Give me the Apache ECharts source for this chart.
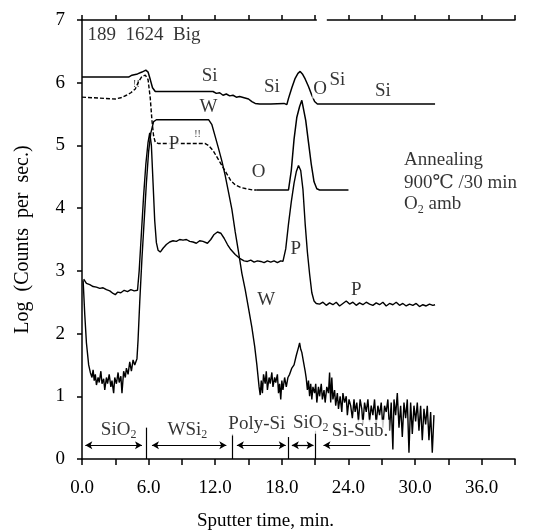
<!DOCTYPE html>
<html>
<head>
<meta charset="utf-8">
<title>SIMS depth profile</title>
<script src="https://cdn.jsdelivr.net/npm/echarts@6/dist/echarts.min.js"></script>
<style>
  html, body { margin: 0; padding: 0; background: #fff; }
  #chart { width: 549px; height: 531px; }
</style>
</head>
<body>
<div id="chart"></div>
<script>
// sputter time (min) vs log counts
const siData = [[0,6.09],[4.2,6.09],[4.5,6.12],[5.0,6.14],[5.4,6.17],[5.75,6.2],[5.95,6.17],[6.15,6.05],[6.35,5.92],[6.6,5.86],[7,5.86],[11.8,5.86],[12.1,5.83],[12.4,5.84],[12.7,5.8],[13.0,5.82],[13.3,5.79],[13.6,5.8],[13.9,5.77],[14.2,5.78],[14.6,5.76],[15.0,5.74],[15.3,5.7],[15.6,5.67],[16.0,5.66],[17.0,5.66],[18.2,5.67],[18.45,5.65],[18.6,5.75],[18.9,5.92],[19.2,6.07],[19.45,6.15],[19.65,6.18],[19.85,6.14],[20.1,6.06],[20.4,5.94],[20.7,5.8],[20.95,5.7],[21.2,5.66],[31.8,5.66]];

const oDashed = [[0,5.77],[1.0,5.76],[2.0,5.75],[3.0,5.74],[3.5,5.76],[4.0,5.8],[4.4,5.84],[4.8,5.9],[5.1,6.02],[5.4,6.1],[5.7,6.12],[5.95,6.05],[6.15,5.75],[6.3,5.4],[6.45,5.15],[6.6,5.05],[6.9,5.03],[8,5.03],[11.1,5.03],[11.4,5.0],[11.8,4.92],[12.2,4.8],[12.6,4.68],[13.0,4.56],[13.4,4.44],[13.8,4.37],[14.3,4.33],[14.8,4.31],[15.4,4.29],[15.7,4.29]];
const oSolid = [[15.7,4.29],[18.6,4.29],[18.85,4.6],[19.1,5.1],[19.35,5.45],[19.6,5.62],[19.8,5.72],[19.95,5.7],[20.15,5.4],[20.4,5.05],[20.65,4.7],[20.9,4.42],[21.15,4.31],[21.4,4.29],[24.0,4.29]];

const pData = [[0.15,2.87],[0.4,2.8],[0.7,2.78],[1.0,2.75],[1.3,2.74],[1.6,2.72],[1.9,2.73],[2.2,2.7],[2.5,2.68],[2.8,2.64],[3.0,2.62],[3.2,2.66],[3.5,2.65],[3.8,2.69],[4.1,2.67],[4.4,2.7],[4.7,2.68],[5.0,2.69],[5.15,3.0],[5.35,3.6],[5.55,4.2],[5.75,4.7],[5.95,5.05],[6.1,5.2],[6.25,5.0],[6.4,4.4],[6.55,3.8],[6.7,3.45],[6.85,3.33],[7.05,3.3],[7.3,3.36],[7.6,3.42],[7.9,3.46],[8.2,3.48],[8.5,3.47],[8.8,3.5],[9.1,3.49],[9.4,3.5],[9.7,3.47],[10.0,3.46],[10.3,3.44],[10.6,3.48],[10.9,3.47],[11.3,3.44],[11.6,3.5],[11.9,3.58],[12.2,3.62],[12.5,3.6],[12.8,3.52],[13.1,3.42],[13.4,3.34],[13.8,3.26],[14.2,3.2],[14.6,3.16],[14.9,3.15],[15.2,3.17],[15.5,3.14],[15.8,3.16],[16.1,3.15],[16.4,3.13],[16.7,3.16],[17.0,3.14],[17.3,3.16],[17.6,3.13],[17.9,3.16],[18.1,3.15],[18.35,3.35],[18.6,3.75],[18.85,4.1],[19.1,4.4],[19.3,4.58],[19.5,4.68],[19.7,4.6],[19.9,4.3],[20.1,3.75],[20.3,3.3],[20.5,2.95],[20.7,2.65],[20.9,2.52],[21.1,2.48],[21.4,2.47],[21.7,2.5],[22.0,2.45],[22.3,2.49],[22.6,2.46],[22.9,2.5],[23.2,2.44],[23.5,2.48],[23.8,2.52],[24.1,2.47],[24.4,2.5],[24.7,2.45],[25.0,2.49],[25.3,2.46],[25.6,2.5],[25.9,2.47],[26.2,2.45],[26.5,2.49],[26.8,2.46],[27.1,2.5],[27.4,2.44],[27.7,2.48],[28.0,2.46],[28.3,2.5],[28.6,2.45],[28.9,2.48],[29.2,2.44],[29.5,2.47],[29.8,2.45],[30.1,2.48],[30.4,2.43],[30.7,2.46],[31.0,2.44],[31.3,2.47],[31.6,2.45],[31.8,2.46]];

const wData = [[0.1,2.85],[0.25,2.3],[0.4,1.85],[0.6,1.5],[0.75,1.38],[0.9,1.3],[1.0,1.42],[1.1,1.25],[1.2,1.35],[1.3,1.18],[1.45,1.3],[1.55,1.22],[1.7,1.4],[1.8,1.2],[1.95,1.28],[2.05,1.1],[2.2,1.3],[2.3,1.2],[2.45,1.35],[2.6,1.15],[2.7,1.25],[2.85,1.05],[2.95,1.3],[3.1,1.2],[3.25,1.38],[3.35,1.22],[3.5,1.32],[3.6,1.05],[3.75,1.4],[3.9,1.3],[4.0,1.45],[4.15,1.35],[4.3,1.55],[4.45,1.4],[4.6,1.58],[4.75,1.5],[4.95,1.6],[5.05,1.9],[5.2,2.5],[5.4,3.2],[5.6,3.8],[5.8,4.4],[6.0,4.9],[6.2,5.2],[6.45,5.38],[6.7,5.41],[11.4,5.41],[11.7,5.33],[12.0,5.14],[12.3,4.95],[12.6,4.75],[12.9,4.52],[13.2,4.25],[13.5,3.98],[13.8,3.62],[14.1,3.3],[14.4,2.96],[14.7,2.7],[15.0,2.4],[15.3,2.1],[15.55,1.8],[15.75,1.5],[15.95,1.15],[16.05,1.02],[16.15,1.25],[16.25,1.05],[16.35,1.35],[16.5,1.2],[16.6,1.4],[16.7,1.1],[16.85,1.3],[16.95,1.2],[17.1,1.38],[17.2,1.15],[17.35,1.3],[17.45,1.22],[17.6,1.35],[17.7,1.05],[17.8,1.2],[17.9,0.95],[18.0,1.25],[18.1,1.1],[18.25,1.3],[18.4,1.15],[18.55,1.3],[18.7,1.35],[18.9,1.45],[19.1,1.5],[19.3,1.65],[19.5,1.78],[19.6,1.85],[19.7,1.75],[19.8,1.7],[19.95,1.55],[20.1,1.4],[20.2,1.28],[20.3,1.1],[20.4,1.25],[20.5,1.0],[20.6,1.2],[20.7,0.95],[20.8,1.15],[20.95,1.05],[21.05,1.2],[21.15,0.9],[21.3,1.15],[21.4,1.0],[21.55,1.2],[21.65,0.95],[21.8,1.1],[21.9,0.9],[22.05,1.15],[22.2,1.05],[22.3,1.38],[22.4,0.9],[22.5,1.3],[22.6,0.95],[22.75,1.1],[22.85,0.85],[23.0,1.05],[23.1,0.8],[23.25,1.0],[23.4,0.75],[23.5,1.05],[23.65,0.9],[23.8,1.0],[23.9,0.7],[24.05,0.95],[24.2,0.85],[24.35,0.65],[24.5,0.95],[24.6,0.75],[24.75,0.9],[24.9,0.6],[25.05,0.95],[25.2,0.8],[25.3,0.55],[25.45,0.9],[25.6,0.75],[25.75,0.95],[25.9,0.6],[26.05,0.85],[26.2,0.7],[26.35,0.95],[26.5,0.55],[26.65,0.85],[26.8,0.7],[26.95,0.9],[27.1,0.5],[27.25,0.85],[27.4,0.75],[27.55,0.95],[27.7,0.45],[27.85,0.9],[28.0,0.15],[28.1,0.95],[28.25,0.7],[28.4,1.05],[28.55,0.5],[28.7,0.85],[28.85,0.35],[29.0,0.9],[29.15,0.65],[29.3,0.95],[29.45,0.1],[29.6,0.9],[29.75,0.4],[29.9,0.85],[30.05,0.6],[30.2,0.9],[30.35,0.45],[30.5,0.85],[30.65,0.3],[30.8,0.8],[30.95,0.55],[31.1,0.85],[31.25,0.3],[31.4,0.75],[31.55,0.1],[31.7,0.7]];

const xLabelValues = [0, 6, 12, 18, 24, 30, 36];
const yTickValues = [0, 1, 2, 3, 4, 5, 6, 7];

// curve labels [t, v, text]
const curveNotes = [[11.5,6.1,'Si'],[11.4,5.62,'W'],[8.3,5.02,'P'],[15.9,4.58,'O'],[17.1,5.93,'Si'],[21.45,5.9,'O'],[23.0,6.04,'Si'],[27.1,5.86,'Si'],[19.25,3.35,'P'],[16.6,2.54,'W'],[24.7,2.7,'P']];
const smallMarks = [[10.4,5.17,'!!'],[4.9,5.98,'!!']];
const leftNotes = [[0.5,6.76,'189  1624  Big'],[29.0,4.77,'Annealing'],[29.0,4.4,'900\u2103 /30 min'],[29.0,4.06,'{t|O}{s|2}{t| amb}']];
const layerNames = [[3.3,0.46,'{t|SiO}{s|2}'],[9.5,0.46,'{t|WSi}{s|2}'],[15.75,0.55,'{t|Poly-Si}'],[20.6,0.58,'{t|SiO}{s|2}'],[25.05,0.45,'{t|Si-Sub.}']];
const layerBounds = [[5.75,0.5],[13.5,0.4],[18.6,0.35],[21.0,0.45]];
const layerArrows = [[0.3,5.4],[6.3,13.0],[13.95,18.35],[18.9,20.85]];
const subArrow = [21.75,25.95];
const topGap = [21.15,22.05];

const FONT = '"Liberation Serif", "DejaVu Serif", "Noto Sans CJK SC", serif';
const chart = echarts.init(document.getElementById('chart'));

const richText = {
  t: { fontFamily: FONT, fontSize: 19, color: '#000', lineHeight: 22 },
  s: { fontFamily: FONT, fontSize: 12, color: '#000', verticalAlign: 'bottom', lineHeight: 22, padding: [9, 0, 0, 0] }
};

function noteItems(list, align, extra) {
  return list.map(n => ({
    value: [n[0], n[1]],
    label: Object.assign({ formatter: n[2], align: align }, extra || {})
  }));
}

const lineBase = { type: 'line', symbol: 'none', animation: false, z: 3 };

const markLines = [];
layerBounds.forEach(b => markLines.push([{ coord: [b[0], 0], symbol: 'none' }, { coord: [b[0], b[1]], symbol: 'none' }]));
layerArrows.forEach(a => markLines.push([{ coord: [a[0], 0.22], symbol: 'arrow' }, { coord: [a[1], 0.22], symbol: 'arrow' }]));
markLines.push([{ coord: [subArrow[0], 0.22], symbol: 'arrow' }, { coord: [subArrow[1], 0.22], symbol: 'none' }]);

chart.setOption({
  animation: false,
  backgroundColor: '#fff',
  grid: { left: 82, right: 34, top: 20, bottom: 72, containLabel: false, outerBoundsMode: 'none' },
  xAxis: [{
    type: 'value', min: 0, max: 39, interval: 3,
    name: 'Sputter time, min.', nameLocation: 'middle', nameGap: 53,
    nameTextStyle: { fontFamily: FONT, fontSize: 19, color: '#000', padding: [0, 66, 0, 0] },
    axisLine: { onZero: false, lineStyle: { color: '#000', width: 1.5 } },
    axisTick: { length: 6, lineStyle: { color: '#000', width: 1.5 } },
    axisLabel: {
      margin: 20, fontFamily: FONT, fontSize: 19, color: '#000',
      formatter: v => xLabelValues.indexOf(v) >= 0 ? v.toFixed(1) : ''
    },
    splitLine: { show: false }
  }, {
    type: 'value', min: 0, max: 39, interval: 3, position: 'top',
    axisLine: { show: true, onZero: false, lineStyle: { color: '#000', width: 1.5 } },
    axisTick: { show: true, length: 5, lineStyle: { color: '#000', width: 1.5 } },
    axisLabel: { show: false },
    splitLine: { show: false }
  }],
  yAxis: {
    type: 'value', min: 0, max: 7, interval: 1,
    name: 'Log  (Counts  per  sec.)', nameLocation: 'middle', nameGap: 49,
    nameTextStyle: { fontFamily: FONT, fontSize: 20, color: '#000' },
    axisLine: { show: true, lineStyle: { color: '#000', width: 1.5 } },
    axisTick: { show: true, length: 5, lineStyle: { color: '#000', width: 1.5 } },
    axisLabel: {
      margin: 17, fontFamily: FONT, fontSize: 19, color: '#000',
      formatter: v => yTickValues.indexOf(v) >= 0 ? String(v) : ''
    },
    splitLine: { show: false }
  },
  series: [
    Object.assign({ name: 'Si', data: siData, lineStyle: { color: '#000', width: 1.5 } }, lineBase),
    Object.assign({ name: 'O', data: oDashed, lineStyle: { color: '#000', width: 1.4, type: [4, 2] } }, lineBase),
    Object.assign({ name: 'O', data: oSolid, lineStyle: { color: '#000', width: 1.5 } }, lineBase),
    Object.assign({ name: 'P', data: pData, lineStyle: { color: '#000', width: 1.4 } }, lineBase),
    Object.assign({ name: 'W', data: wData, lineStyle: { color: '#000', width: 1.4 } }, lineBase),
    {
      type: 'scatter', symbolSize: 0, z: 5, animation: false,
      label: { show: true, position: 'inside', fontFamily: FONT, fontSize: 19, color: '#000', rich: richText },
      data: [].concat(
        noteItems(curveNotes, 'center', { backgroundColor: '#fff', padding: [0, 1] }),
        noteItems(smallMarks, 'center', { fontSize: 10 }),
        noteItems(leftNotes, 'left'),
        noteItems(layerNames, 'center', { backgroundColor: '#fff', padding: [0, 1] })
      ),
      markLine: {
        silent: true, animation: false, symbolSize: [6, 7],
        label: { show: false },
        lineStyle: { color: '#000', width: 1.2, type: 'solid' },
        data: markLines
      }
    }
  ]
});

// small break in the top frame line
const g1 = chart.convertToPixel({ xAxisIndex: 1 }, topGap[0]);
const g2 = chart.convertToPixel({ xAxisIndex: 1 }, topGap[1]);
const yTop = chart.convertToPixel({ yAxisIndex: 0 }, 7);
chart.setOption({
  graphic: [{ type: 'rect', shape: { x: g1, y: yTop - 2, width: g2 - g1, height: 4 }, style: { fill: '#fff' }, z: 100 }]
});
</script>
</body>
</html>
